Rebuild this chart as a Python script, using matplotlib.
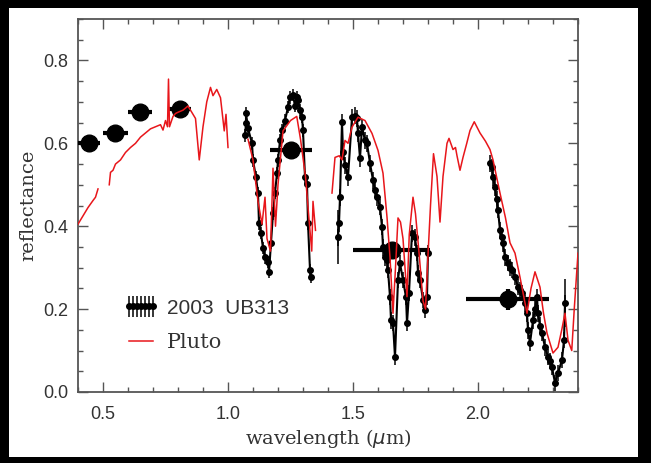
import matplotlib
matplotlib.use("Agg")
import matplotlib.pyplot as plt
from matplotlib.patches import Rectangle
import numpy as np

# --- photometry (big dots with filter widths) ---
phot_x = [0.444, 0.548, 0.648, 0.808, 1.252, 1.654, 2.118]
phot_y = [0.602, 0.624, 0.675, 0.684, 0.584, 0.342, 0.224]
phot_xerr = [0.045, 0.05, 0.048, 0.045, 0.084, 0.154, 0.166]
phot_yerr = [0.0, 0.0, 0.0, 0.0, 0.0, 0.0, 0.025]

# --- 2003 UB313 spectrum, three windows ---
ub1_x = [1.068, 1.072, 1.072, 1.080, 1.096, 1.100, 1.112, 1.120, 1.124, 1.132,
         1.140, 1.148, 1.160, 1.164, 1.172, 1.180, 1.188, 1.196, 1.200, 1.208,
         1.216, 1.228, 1.240, 1.248, 1.260, 1.268, 1.276, 1.280, 1.288, 1.296,
         1.300, 1.308, 1.316, 1.320, 1.328, 1.332]
ub1_y = [0.619, 0.648, 0.672, 0.636, 0.600, 0.559, 0.518, 0.480, 0.407, 0.383,
         0.347, 0.325, 0.313, 0.289, 0.360, 0.431, 0.480, 0.528, 0.559, 0.607,
         0.631, 0.655, 0.687, 0.711, 0.716, 0.690, 0.711, 0.704, 0.680, 0.663,
         0.631, 0.518, 0.503, 0.407, 0.294, 0.277]

ub2_x = [1.440, 1.444, 1.448, 1.456, 1.460, 1.468, 1.480, 1.496, 1.508, 1.516,
         1.520, 1.528, 1.536, 1.548, 1.556, 1.568, 1.580, 1.588, 1.596, 1.608,
         1.616, 1.620, 1.628, 1.636, 1.640, 1.648, 1.652, 1.660, 1.668, 1.680,
         1.688, 1.700, 1.712, 1.716, 1.724, 1.736, 1.748, 1.756, 1.760, 1.768,
         1.780, 1.788, 1.796, 1.800]
ub2_y = [0.373, 0.407, 0.470, 0.651, 0.580, 0.547, 0.518, 0.663, 0.667, 0.660,
         0.624, 0.564, 0.639, 0.607, 0.600, 0.552, 0.511, 0.487, 0.470, 0.446,
         0.398, 0.349, 0.325, 0.318, 0.294, 0.229, 0.173, 0.166, 0.084, 0.270,
         0.311, 0.270, 0.229, 0.166, 0.239, 0.383, 0.373, 0.335, 0.287, 0.270,
         0.222, 0.198, 0.229, 0.335]

ub3_x = [2.048, 2.056, 2.060, 2.068, 2.074, 2.080, 2.088, 2.094, 2.100, 2.108,
         2.120, 2.128, 2.136, 2.148, 2.160, 2.168, 2.176, 2.188, 2.196, 2.200,
         2.208, 2.220, 2.228, 2.236, 2.240, 2.248, 2.256, 2.268, 2.280, 2.288,
         2.296, 2.308, 2.320, 2.336, 2.344, 2.348]
ub3_y = [0.552, 0.542, 0.518, 0.494, 0.465, 0.439, 0.390, 0.375, 0.359, 0.325,
         0.311, 0.300, 0.294, 0.277, 0.253, 0.245, 0.239, 0.214, 0.190, 0.149,
         0.118, 0.173, 0.200, 0.229, 0.190, 0.160, 0.142, 0.108, 0.084, 0.075,
         0.060, 0.022, 0.046, 0.077, 0.125, 0.214]

ub_err = [0.015, 0.02, 0.02]
# a few points with much larger error bars
big_err_x = [1.440, 2.348]
big_err_y = [0.373, 0.214]
big_err = [0.065, 0.058]

# --- Pluto spectrum (NaN = gap) ---
pluto_x = [0.400, 0.420, 0.440, 0.460, 0.470, 0.480, np.nan,
           0.525, 0.530, 0.540, 0.550, 0.570, 0.590, 0.610, 0.630, 0.650, 0.670,
           0.690, 0.710, 0.730, 0.740, 0.750, 0.758, 0.762, 0.766, 0.780, 0.790,
           0.800, 0.820, 0.840, 0.855, 0.870, 0.885, 0.900, 0.915, 0.930, 0.940,
           0.955, 0.970, 0.985, 0.992, 1.000, np.nan,
           1.080, 1.100, 1.120, 1.136, 1.148, 1.156, 1.170, 1.180, 1.190, 1.200,
           1.220, 1.250, 1.275, 1.290, 1.310, 1.325, 1.335, 1.340, 1.350, np.nan,
           1.416, 1.428, 1.445, 1.456, 1.468, 1.480, 1.496, 1.520, 1.548, 1.576,
           1.600, 1.620, 1.636, 1.648, 1.660, 1.670, 1.680, 1.690, 1.700, 1.716,
           1.725, 1.740, 1.750, 1.765, 1.780, 1.790, 1.800, 1.810, 1.822, 1.836,
           1.848, 1.860, 1.876, 1.884, 1.900, 1.910, 1.916, 1.928, 1.940, 1.955,
           1.968, 1.985, 2.008, 2.030, 2.048, 2.060, 2.088, 2.110, 2.128, 2.148,
           2.168, 2.196, 2.212, 2.228, 2.248, 2.262, 2.276, 2.300, 2.320, 2.335,
           2.348, 2.360, 2.375, 2.385, 2.400]
pluto_y = [0.405, 0.425, 0.445, 0.462, 0.470, 0.490, np.nan,
           0.500, 0.530, 0.535, 0.550, 0.560, 0.578, 0.590, 0.600, 0.615, 0.625,
           0.635, 0.640, 0.645, 0.632, 0.655, 0.640, 0.755, 0.640, 0.665, 0.672,
           0.675, 0.680, 0.690, 0.675, 0.660, 0.560, 0.640, 0.700, 0.735, 0.715,
           0.730, 0.710, 0.630, 0.670, 0.590, np.nan,
           0.610, 0.560, 0.460, 0.405, 0.470, 0.370, 0.340, 0.540, 0.400, 0.500,
           0.630, 0.655, 0.665, 0.610, 0.520, 0.410, 0.340, 0.460, 0.390, np.nan,
           0.480, 0.566, 0.570, 0.560, 0.607, 0.600, 0.639, 0.663, 0.655, 0.624,
           0.583, 0.528, 0.422, 0.325, 0.190, 0.300, 0.420, 0.410, 0.370, 0.230,
           0.380, 0.470, 0.430, 0.330, 0.220, 0.200, 0.330, 0.450, 0.575, 0.520,
           0.410, 0.520, 0.600, 0.612, 0.585, 0.590, 0.570, 0.535, 0.566, 0.600,
           0.631, 0.652, 0.625, 0.605, 0.585, 0.560, 0.480, 0.420, 0.360, 0.335,
           0.277, 0.190, 0.250, 0.290, 0.253, 0.190, 0.142, 0.094, 0.108, 0.150,
           0.190, 0.125, 0.100, 0.200, 0.335]

fig = plt.figure(figsize=(6.51, 4.63), dpi=100, facecolor="black")
fig.patches.append(Rectangle((9 / 651, 1 - 457 / 463), 629 / 651, 449 / 463,
                             transform=fig.transFigure, facecolor="white",
                             edgecolor="none", zorder=-10))
ax = fig.add_axes([78 / 651, 1 - 392 / 463, 500 / 651, 373 / 463])

# spectrum of 2003 UB313
for sx, sy, e in [(ub1_x, ub1_y, ub_err[0]), (ub2_x, ub2_y, ub_err[1]),
                  (ub3_x, ub3_y, ub_err[2])]:
    h_ub = ax.errorbar(sx, sy, yerr=e, fmt="-o", color="black", ms=4,
                       lw=1.5, elinewidth=1.1, capsize=0, zorder=3)
ax.errorbar(big_err_x, big_err_y, yerr=big_err, fmt="none", ecolor="black",
            elinewidth=1.1, capsize=0, zorder=3)

# Pluto
h_pl, = ax.plot(pluto_x, pluto_y, color="#e8161b", lw=1.1, zorder=4)

# photometry
ax.errorbar(phot_x, phot_y, xerr=phot_xerr, yerr=phot_yerr, fmt="o",
            color="black", ms=12, elinewidth=3, capsize=0, zorder=3.5)

ax.set_xlim(0.4, 2.4)
ax.set_ylim(0.0, 0.9)
ax.set_xticks([0.5, 1.0, 1.5, 2.0])
ax.set_xticks(np.arange(0.4, 2.41, 0.1), minor=True)
ax.set_yticks([0.0, 0.2, 0.4, 0.6, 0.8])
ax.set_yticks(np.arange(0.0, 0.91, 0.05), minor=True)
ax.xaxis.set_major_formatter(plt.FormatStrFormatter("%.1f"))
ax.yaxis.set_major_formatter(plt.FormatStrFormatter("%.1f"))
ax.tick_params(which="both", direction="in", top=True, right=True,
               color="#555555", width=1.0)
ax.tick_params(which="major", length=7)
ax.tick_params(which="minor", length=3.5)
ax.tick_params(axis="x", pad=10, labelsize=13, labelcolor="#333333")
ax.tick_params(axis="y", pad=7, labelsize=13, labelcolor="#333333")
for lab in ax.get_xticklabels() + ax.get_yticklabels():
    lab.set_family("Liberation Sans")
for sp in ax.spines.values():
    sp.set_color("#555555")
    sp.set_linewidth(1.3)

plt.rcParams["mathtext.fontset"] = "dejavuserif"
ax.set_xlabel(r"wavelength ($\mu$m)", family="DejaVu Serif", fontsize=14,
              color="#333333", labelpad=3)
ax.set_ylabel("reflectance", family="DejaVu Serif", fontsize=14,
              color="#333333", labelpad=4)

leg = ax.legend([h_ub, h_pl], ["2003  UB313", "Pluto"], loc="upper left",
                bbox_to_anchor=(0.09, 0.25), frameon=False, numpoints=7,
                handlelength=1.75, handletextpad=0.35, labelspacing=0.75,
                borderpad=0, borderaxespad=0, fontsize=15)
leg.get_texts()[0].set_family("Liberation Sans")
leg.get_texts()[1].set_family("DejaVu Serif")
for t in leg.get_texts():
    t.set_color("#333333")

fig.savefig("out.png", dpi=100, facecolor=fig.get_facecolor())
